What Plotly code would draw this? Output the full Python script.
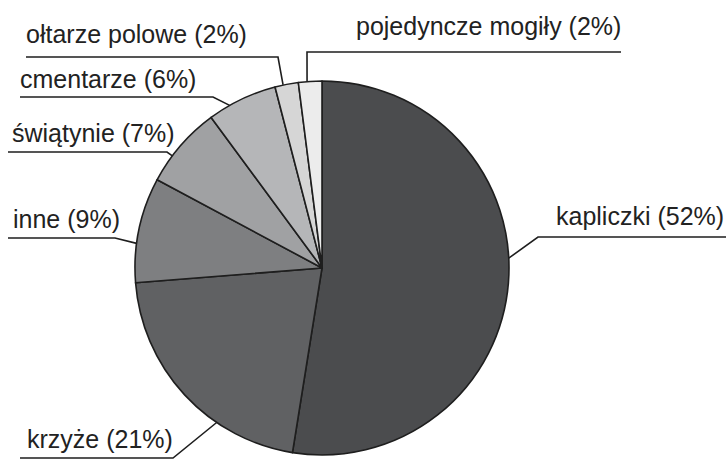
import math
import plotly.graph_objects as go

# ---- data ----
categories = ["kapliczki", "krzyże", "inne", "świątynie", "cmentarze",
              "ołtarze polowe", "pojedyncze mogiły"]
shares = [52, 21, 9, 7, 6, 2, 2]
labels = [f"{c} ({v}%)" for c, v in zip(categories, shares)]

# ---- style / layout ----
colors = ["#4b4c4e", "#606163", "#7e7f81", "#a0a1a3", "#b5b6b8", "#d6d6d6", "#ececec"]
W, H = 726, 459
CX, CY, R = 322, 268, 187          # pie centre / radius in pixels
# where along each slice the leader line touches the rim (fraction of slice)
anchor_frac = [0.46, 0.33, 0.37, 0.34, 0.31, 0.35, 0.37]
# label layout: text left x, text baseline y, underline y, underline x0, x1, elbow side
label_pos = [
    (556, 225, 237, 538, 726, "left"),
    (27, 448, 458, 20, 173, "right"),
    (13, 228, 238, 8, 115, "right"),
    (12, 142, 152, 8, 167, "right"),
    (20, 88, 97, 20, 213, "right"),
    (26, 43, 57, 26, 278, "right"),
    (356, 35, 52, 307, 621, "left"),
]

fig = go.Figure()
fig.add_trace(go.Pie(
    labels=labels, values=shares, sort=False, direction="clockwise", rotation=0,
    marker=dict(colors=colors, line=dict(color="#1e1e1e", width=1.6)),
    textinfo="none", hoverinfo="label", showlegend=False,
    domain=dict(x=[(CX - R) / W, (CX + R) / W],
                y=[(H - (CY + R)) / H, (H - (CY - R)) / H]),
))

total = sum(shares)
cum = 0
line_x, line_y = [], []
for i, v in enumerate(shares):
    a0 = cum / total * 360
    a1 = (cum + v) / total * 360
    cum += v
    ang = math.radians(a0 + anchor_frac[i] * (a1 - a0))
    px = CX + R * math.sin(ang)
    py = CY - R * math.cos(ang)
    tx, tb, uy, ux0, ux1, side = label_pos[i]
    ex = ux1 if side == "right" else ux0
    ox = ux0 if side == "right" else ux1
    line_x += [ox, ex, px, None]
    line_y += [uy, uy, py, None]
    fig.add_annotation(x=tx - 2, y=tb + 7, xref="x", yref="y", text=labels[i],
                       showarrow=False, xanchor="left", yanchor="bottom",
                       font=dict(family="Liberation Sans, Arial, sans-serif",
                                 size=25, color="#222222"))

fig.add_trace(go.Scatter(x=line_x, y=line_y, mode="lines",
                         line=dict(color="#1e1e1e", width=1.6),
                         hoverinfo="skip", showlegend=False))

fig.update_layout(
    width=W, height=H, margin=dict(l=0, r=0, t=0, b=0),
    paper_bgcolor="white", plot_bgcolor="rgba(0,0,0,0)",
    xaxis=dict(range=[0, W], visible=False, fixedrange=True),
    yaxis=dict(range=[H, 0], visible=False, fixedrange=True),
)
fig.write_html("out.html", config={"displayModeBar": False},
               post_script="document.body.style.margin='0';document.body.style.overflow='hidden';")
